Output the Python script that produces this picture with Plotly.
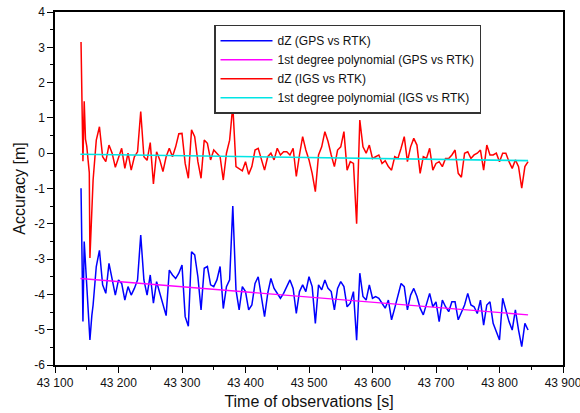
import plotly.graph_objects as go

# ---- data ----
time_start_s = [43141, 43142, 43144, 43146, 43148, 43150, 43152, 43154, 43155, 43158]
time_main_s = list(range(43160, 43846, 5))
time_s = time_start_s + time_main_s

dz_igs_start = [3.15, 2.0, -0.23, 1.47, 0.4, 0.2, -0.27, -0.55, -2.97, -1.3]
dz_igs_main = [
    -0.76, 0.37, 0.75, -0.10, -0.24, 0.23, 0.00, -0.40, -0.10, 0.14,
    -0.43, 0.00, -0.48, -0.10, 0.04, 1.18, -0.10, -0.20, 0.30, -0.87,
    0.04, -0.19, -0.52, -0.10, 0.14, -0.10, 0.18, 0.55, 0.56, -0.29,
    -0.71, 0.66, 0.47, -0.24, -0.71, 0.37, 0.28, -0.19, 0.09, 0.00,
    -0.10, -0.76, 0.00, 0.37, 1.35, -0.38, -0.43, -0.50, -0.24, -0.60,
    -0.38, 0.09, 0.14, -0.19, -0.48, -0.10, 0.00, -0.19, 0.14, -0.05,
    0.04, 0.04, -0.05, 0.14, -0.66, -0.05, 0.47, 0.09, -0.19, -0.57,
    -1.09, -0.05, 0.18, 0.61, 0.33, -0.05, -0.38, 0.09, 0.18, 0.61,
    -0.48, -0.24, -0.29, -2.00, 0.94, 0.18, 0.00, 0.23, -0.15, -0.10,
    -0.05, -0.29, -0.21, -0.38, -0.48, -0.10, -0.15, 0.14, 0.47, -0.24,
    0.18, 0.42, 0.23, -0.57, -0.10, -0.15, 0.14, -0.48, -0.29, -0.24,
    -0.38, -0.15, -0.15, -0.05, 0.09, -0.57, -0.68, 0.00, 0.04, -0.15,
    -0.05, 0.00, 0.09, -0.48, 0.23, -0.05, -0.05, 0.00, -0.24, 0.00,
    0.00, -0.24, -0.43, -0.19, -0.38, -0.99, -0.38, -0.24,
]
dz_igs = dz_igs_start + dz_igs_main

dz_gps_start = [-0.99, -2.4, -4.77, -2.5, -3.2, -3.6, -4.4, -5.0, -5.29, -4.6]
dz_gps_main = [
    -4.30, -3.21, -2.75, -3.73, -3.97, -3.12, -3.55, -4.02, -3.59, -3.69,
    -4.16, -3.78, -4.02, -3.83, -3.59, -2.32, -3.59, -4.02, -3.45, -4.25,
    -3.64, -3.97, -4.25, -4.60, -3.31, -3.45, -3.55, -3.40, -3.17, -4.63,
    -4.90, -2.79, -2.88, -3.50, -4.44, -3.26, -3.21, -3.73, -3.78, -3.59,
    -3.21, -4.40, -3.78, -3.59, -1.50, -3.87, -4.44, -3.78, -3.92, -4.44,
    -4.30, -3.69, -3.50, -4.06, -4.63, -3.97, -3.55, -3.83, -3.97, -4.11,
    -3.97, -3.78, -3.59, -3.83, -4.54, -3.92, -3.73, -3.92, -3.50, -3.78,
    -4.82, -3.73, -3.87, -3.59, -3.83, -3.92, -4.44, -3.83, -3.64, -3.78,
    -4.35, -4.25, -3.92, -5.30, -3.40, -4.06, -4.16, -3.73, -4.11, -4.06,
    -4.11, -4.25, -4.39, -4.16, -4.72, -4.39, -4.06, -3.69, -3.78, -4.44,
    -4.02, -3.83, -4.06, -4.39, -4.58, -4.25, -3.97, -4.35, -4.21, -4.77,
    -4.16, -4.35, -4.49, -4.21, -4.21, -4.72, -4.49, -4.30, -3.97, -4.30,
    -4.35, -4.54, -4.16, -4.87, -4.30, -4.21, -4.82, -5.06, -5.29, -4.11,
    -4.44, -4.77, -5.01, -4.44, -5.01, -5.48, -4.82, -5.01,
]
dz_gps = dz_gps_start + dz_gps_main

fit_time_s = [43140, 43845]
fit_gps = [-3.55, -4.58]
fit_igs = [-0.03, -0.21]

x_ticks = [43100, 43200, 43300, 43400, 43500, 43600, 43700, 43800, 43900]
x_tick_labels = ["43 100", "43 200", "43 300", "43 400", "43 500",
                 "43 600", "43 700", "43 800", "43 900"]
y_ticks = [-6, -5, -4, -3, -2, -1, 0, 1, 2, 3, 4]
y_tick_labels = ["-6", "-5", "-4", "-3", "-2", "-1", "0", "1", "2", "3", "4"]

FONT = "Liberation Sans, Arial, sans-serif"

fig = go.Figure()
fig.add_trace(go.Scatter(x=time_s, y=dz_gps, mode="lines",
                         name="dZ (GPS vs RTK)",
                         line=dict(color="#0000ff", width=1.5)))
fig.add_trace(go.Scatter(x=fit_time_s, y=fit_gps, mode="lines",
                         name="1st degree polynomial (GPS vs RTK)",
                         line=dict(color="#ff00ff", width=1.4)))
fig.add_trace(go.Scatter(x=time_s, y=dz_igs, mode="lines",
                         name="dZ (IGS vs RTK)",
                         line=dict(color="#ff0000", width=1.5)))
fig.add_trace(go.Scatter(x=fit_time_s, y=fit_igs, mode="lines",
                         name="1st degree polynomial (IGS vs RTK)",
                         line=dict(color="#00e5e5", width=1.6)))

axis_common = dict(
    showline=True, linecolor="black", linewidth=1.5, mirror=True,
    ticks="outside", ticklen=6, tickwidth=1, tickcolor="black",
    showgrid=False, zeroline=False, ticklabeloverflow="allow",
    automargin=False,
    tickfont=dict(family=FONT, size=12, color="#111"),
)

fig.update_layout(
    width=580, height=413,
    margin=dict(l=55, r=17, t=12, b=48),
    paper_bgcolor="white", plot_bgcolor="white",
    font=dict(family=FONT, color="#111"),
    xaxis=dict(range=[43100, 43900], tickmode="array", tickvals=x_ticks,
               ticktext=x_tick_labels,
               minor=dict(tickmode="linear", tick0=43100, dtick=50,
                          ticklen=3, tickcolor="black", ticks="outside"),
               title=dict(text="Time of observations [s]",
                          font=dict(family=FONT, size=16, color="#111"),
                          standoff=7),
               **axis_common),
    yaxis=dict(range=[-6, 4], tickmode="array", tickvals=y_ticks,
               ticktext=y_tick_labels,
               minor=dict(tickmode="linear", tick0=-6, dtick=0.5,
                          ticklen=3, tickcolor="black", ticks="outside"),
               title=dict(text="Accuracy [m]",
                          font=dict(family=FONT, size=16, color="#111"),
                          standoff=5),
               **axis_common),
    showlegend=True,
    legend=dict(x=0.313, y=0.964, xanchor="left", yanchor="top",
                bgcolor="white", bordercolor="#333", borderwidth=1.5,
                font=dict(family=FONT, size=12, color="#111"),
                itemwidth=52, tracegroupgap=0, traceorder="normal"),
)

fig.write_html("out.html")
